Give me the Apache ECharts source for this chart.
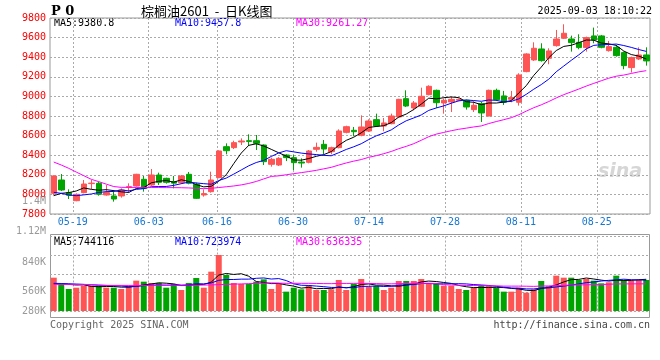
<!DOCTYPE html>
<html><head><meta charset="utf-8">
<script src="https://cdn.jsdelivr.net/npm/echarts@6/dist/echarts.min.js"></script>
<style>html,body{margin:0;padding:0;background:#fff}#c{width:660px;height:360px}</style>
</head><body><div id="c"></div>
<script>
const dates = ['05-14','05-15','05-16','05-19','05-20','05-21','05-22','05-23','05-26','05-27',
'05-28','05-29','05-30','06-03','06-04','06-05','06-06','06-09','06-10','06-11',
'06-12','06-13','06-16','06-17','06-18','06-19','06-20','06-23','06-24','06-25',
'06-26','06-27','06-30','07-01','07-02','07-03','07-04','07-07','07-08','07-09',
'07-10','07-11','07-14','07-15','07-16','07-17','07-18','07-21','07-22','07-23',
'07-24','07-25','07-28','07-29','07-30','07-31','08-01','08-04','08-05','08-06',
'08-07','08-08','08-11','08-12','08-13','08-14','08-15','08-18','08-19','08-20',
'08-21','08-22','08-25','08-26','08-27','08-28','08-29','09-01','09-02','09-03'];
const labelDates = ['05-19','06-03','06-16','06-30','07-14','07-28','08-11','08-25'];

const opens = [8011,8147,8018,7936,8018,8110,8113,7994,7984,7984,
8070,8086,8154,8096,8198,8164,8130,8120,8205,8103,
7994,8028,8171,8487,8477,8535,8548,8548,8504,8307,
8300,8402,8375,8330,8327,8460,8511,8436,8477,8633,
8654,8603,8647,8763,8698,8722,8790,8977,8882,8899,
9018,9062,8933,8943,8960,8960,8865,8926,8800,9062,
9005,8971,8940,9253,9372,9484,9389,9518,9593,9586,
9552,9498,9617,9617,9467,9501,9447,9294,9382,9423];
const closes = [8188,8045,7991,8001,8106,8115,8001,8018,7953,8045,
8080,8205,8062,8198,8123,8123,8115,8188,8113,7960,
8008,8147,8443,8446,8528,8545,8541,8521,8334,8358,
8368,8375,8324,8320,8443,8480,8463,8477,8647,8691,
8640,8688,8749,8698,8729,8800,8970,8902,8933,9001,
9103,8936,8960,8970,8970,8892,8909,8831,9062,8967,
8940,8988,9219,9433,9491,9365,9464,9586,9644,9549,
9498,9600,9576,9501,9508,9416,9314,9396,9423,9362];
const lows = [7990,8035,7953,7930,8011,8055,7987,7987,7926,7967,
8018,8080,8028,8086,8096,8110,8062,8106,8103,7953,
7977,8018,8165,8409,8463,8504,8494,8453,8300,8283,
8290,8340,8249,8273,8317,8436,8409,8409,8470,8623,
8593,8593,8637,8688,8644,8715,8783,8892,8858,8892,
9011,8882,8824,8841,8950,8865,8841,8739,8797,8953,
8913,8940,8906,9246,9362,9355,9328,9508,9586,9457,
9481,9457,9542,9491,9457,9406,9277,9243,9372,9314];
const highs = [8195,8208,8052,8010,8147,8147,8130,8096,8045,8062,
8113,8210,8188,8259,8222,8170,8188,8198,8229,8120,
8052,8232,8450,8521,8548,8572,8613,8606,8510,8375,
8380,8410,8402,8368,8453,8528,8555,8487,8664,8701,
8688,8807,8766,8824,8780,8824,8975,9062,8953,9089,
9113,9069,8977,8994,8980,8967,8950,8943,9069,9079,
9056,9056,9236,9440,9552,9542,9491,9678,9736,9620,
9634,9610,9702,9627,9566,9525,9457,9406,9501,9501];
const volumes = [782000,633000,516000,547000,594000,594000,594000,547000,547000,516000,
594000,712000,688000,657000,657000,547000,633000,493000,657000,774000,
547000,923000,1314000,845000,657000,633000,633000,688000,743000,516000,
657000,454000,547000,508000,610000,493000,493000,508000,727000,493000,
633000,751000,571000,587000,493000,547000,704000,704000,704000,751000,
649000,649000,594000,594000,516000,493000,547000,610000,587000,547000,
454000,454000,547000,430000,508000,704000,587000,829000,782000,782000,
727000,751000,712000,649000,673000,829000,727000,712000,727000,727000];

// moving-average values before enough visible history
const priceMa5Head = [7987,8011,8018,8035];
const priceMa10Head = [8021,8011,7994,7987,7995,8004,8020,8028,8030];
const priceMa30Head = [8330,8300,8266,8228,8191,8154,8130,8105,8080,8072,
8072,8071,8071,8070,8070,8069,8069,8068,8066,8062,
8059,8062,8070,8078,8086,8097,8112,8132,8158];
const volMa5Head = [640000,640000,625000,610000];
const volMa10Head = [650000,645000,640000,632000,625000,615000,607000,600000,593000];
const volMa30Head = [625000,625000,625000,624000,622000,620000,605000,600000,600000,600000,
600000,600000,600000,603000,605000,605000,605000,605000,605000,606000,
608000,612000,618000,624000,630000,636000,642000,648000,654000];

const priceTicks = {min:7800, max:9800, step:200};
const volAxisLabels = ['1.12M','840K','560K','280K'];
const legendPrice = ['MA5:9380.8','MA10:9457.8','MA30:9261.27'];
const legendVol = ['MA5:744116','MA10:723974','MA30:636335'];

function ma(arr, n, head, dec){
  return arr.map((v,i)=>{
    if(i < n-1) return head[i];
    let s=0; for(let k=i-n+1;k<=i;k++) s+=arr[k];
    return +(s/n).toFixed(dec);
  });
}
const UP='#ff5454', DOWN='#00a400';
const MONO='DejaVu Sans Mono';
const kdata = opens.map((o,i)=>[o, closes[i], lows[i], highs[i]]);
const labelSet = new Set(labelDates.map(d=>dates.indexOf(d)));
const isLab = (i)=>labelSet.has(i);
const grid0 = {left:50, top:18, width:600, height:196};
const grid1 = {left:50, top:236.5, width:600, height:74.5};
const dotted = {type:[2,2], color:'#aaaaaa', width:1};

const chart = echarts.init(document.getElementById('c'), null, {renderer:'canvas'});
const txt = (x,y,t,color,opt={})=>({type:'text', x, y, silent:true, style:Object.assign({text:t, fill:color, font:'10px "'+MONO+'"', textVerticalAlign:'middle'}, opt)});

chart.setOption({
  animation:false,
  backgroundColor:'#ffffff',
  grid:[
    Object.assign({show:true, borderColor:'#999', borderWidth:1, backgroundColor:'transparent'}, grid0),
    Object.assign({show:false}, grid1)
  ],
  xAxis:[
    {type:'category', gridIndex:0, position:'bottom', data:dates, boundaryGap:true, show:false},
    {type:'category', gridIndex:0, position:'bottom', data:dates, boundaryGap:false,
      axisLine:{show:false}, axisTick:{show:false},
      axisLabel:{interval:(i)=>isLab(i), color:'#1878d0', fontSize:10, fontFamily:MONO, margin:3},
      splitLine:{show:true, interval:(i)=>isLab(i), lineStyle:dotted}},
    {type:'category', gridIndex:1, position:'bottom', data:dates, boundaryGap:true, show:false},
    {type:'category', gridIndex:1, position:'bottom', data:dates, boundaryGap:false,
      axisLine:{show:false}, axisTick:{show:false}, axisLabel:{show:false},
      splitLine:{show:true, interval:(i)=>isLab(i), lineStyle:dotted}}
  ],
  yAxis:[
    {type:'value', gridIndex:0, min:priceTicks.min, max:priceTicks.max, interval:priceTicks.step,
      axisLine:{show:false}, axisTick:{show:false},
      axisLabel:{color:'#ff0000', fontSize:10, fontFamily:MONO, margin:4, formatter:(v)=>String(v)},
      splitLine:{lineStyle:dotted}},
    {type:'value', gridIndex:1, min:0, max:1748000, interval:437000,
      axisLine:{show:false}, axisTick:{show:false}, axisLabel:{show:false},
      splitLine:{lineStyle:dotted}}
  ],
  series:[
    {type:'candlestick', xAxisIndex:0, yAxisIndex:0, data:kdata, barWidth:6,
      itemStyle:{color:UP, color0:DOWN, borderColor:UP, borderColor0:DOWN, borderWidth:1}},
    {type:'line', xAxisIndex:0, yAxisIndex:0, data:ma(closes,5,priceMa5Head,2), symbol:'none', lineStyle:{color:'#000', width:1}},
    {type:'line', xAxisIndex:0, yAxisIndex:0, data:ma(closes,10,priceMa10Head,2), symbol:'none', lineStyle:{color:'#0000ff', width:1}},
    {type:'line', xAxisIndex:0, yAxisIndex:0, data:ma(closes,30,priceMa30Head,2), symbol:'none', lineStyle:{color:'#ff00ff', width:1}},
    {type:'bar', xAxisIndex:2, yAxisIndex:1, barWidth:6,
      data:volumes.map((v,i)=>({value:v, itemStyle:{color: closes[i]>=opens[i]?UP:DOWN}}))},
    {type:'line', xAxisIndex:2, yAxisIndex:1, data:ma(volumes,5,volMa5Head,0), symbol:'none', lineStyle:{color:'#000', width:1}},
    {type:'line', xAxisIndex:2, yAxisIndex:1, data:ma(volumes,10,volMa10Head,0), symbol:'none', lineStyle:{color:'#0000ff', width:1}},
    {type:'line', xAxisIndex:2, yAxisIndex:1, data:ma(volumes,30,volMa30Head,0), symbol:'none', lineStyle:{color:'#ff00ff', width:1}}
  ],
  graphic:[
    {type:'rect', silent:true, shape:{x:50.5, y:234.5, width:599, height:83}, style:{fill:'none', stroke:'#999', lineWidth:1}},
    {type:'text', x:51, y:12, silent:true, style:{text:'P 0', fill:'#000', font:'bold 13px "DejaVu Serif"', textVerticalAlign:'middle'}},
    {type:'text', x:141, y:11, silent:true, style:{text:'棕榈油2601  -  日K线图', fill:'#000', font:'13px "Noto Sans CJK SC"', textVerticalAlign:'middle'}},
    txt(652, 11, '2025-09-03 18:10:22', '#000', {textAlign:'right'}),
    txt(54, 23.5, legendPrice[0], '#000'),
    txt(175, 23.5, legendPrice[1], '#0000ff'),
    txt(296, 23.5, legendPrice[2], '#ff00ff'),
    txt(54, 242.5, legendVol[0], '#000'),
    txt(175, 242.5, legendVol[1], '#0000ff'),
    txt(296, 242.5, legendVol[2], '#ff00ff'),
    txt(46, 231, volAxisLabels[0], '#999', {textAlign:'right'}),
    txt(46, 262, volAxisLabels[1], '#999', {textAlign:'right'}),
    txt(46, 291, volAxisLabels[2], '#999', {textAlign:'right'}),
    txt(46, 311, volAxisLabels[3], '#999', {textAlign:'right'}),
    txt(46, 201, '1.4M', '#999', {textAlign:'right'}),
    txt(50, 325, 'Copyright 2025 SINA.COM', '#666'),
    txt(650, 325, 'http://finance.sina.com.cn', '#444', {textAlign:'right'}),
    {type:'text', x:598, y:172, silent:true, style:{text:'sina', fill:'#d6d6d6', font:'italic bold 19px "DejaVu Sans"', textVerticalAlign:'middle'}}
  ]
});
</script></body></html>
